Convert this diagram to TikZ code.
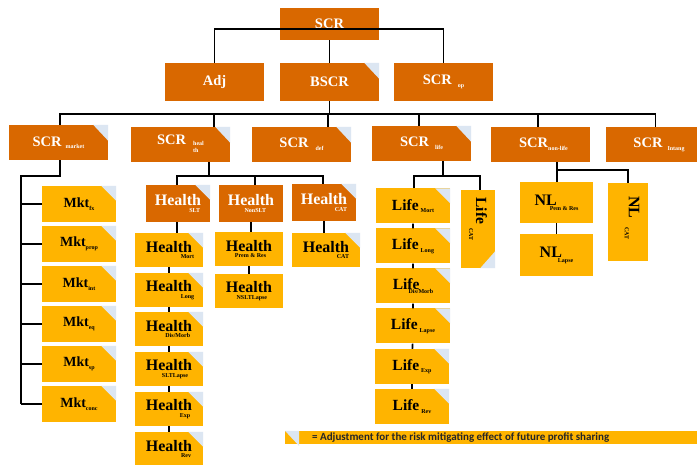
\documentclass[tikz,border=0pt]{standalone}
\usepackage{fontspec}
\setmainfont{Liberation Serif}
\newfontfamily\carlito{Carlito}
\definecolor{dor}{HTML}{D96800}
\definecolor{yel}{HTML}{FFB400}
\definecolor{lbl}{HTML}{DCE6F2}
\newcommand\subf{\fontsize{6}{7}\selectfont}
\newcommand\ssub[2][-2.5pt]{\raisebox{#1}{\subf #2}}
\newcommand\scrf{\fontsize{14.5}{15}\selectfont}
\newcommand\hlt[2][2pt]{{\fontsize{16}{16}\selectfont Health}\llap{\raisebox{-6.5pt}{\subf #2}\hspace{#1}}}
\begin{document}
\begin{tikzpicture}[x=1pt,y=-1pt,
 dk/.style={fill=dor,text=white,inner sep=0pt,font=\bfseries},
 yl/.style={fill=yel,text=black,inner sep=0pt,font=\bfseries},
 topbox/.style={dk,minimum width=99pt,minimum height=38pt},
 secbox/.style={dk,minimum width=99pt,minimum height=35pt},
 mkbox/.style={yl,minimum width=74pt,minimum height=36pt},
 hdbox/.style={dk,minimum width=64pt,minimum height=37pt},
 hybox/.style={yl,minimum width=68pt,minimum height=34pt},
 lybox/.style={yl,minimum width=74pt,minimum height=35pt},
 conn/.style={draw=black,line width=1.6pt},
 thickconn/.style={draw=black,line width=2.6pt},
 foldc/.style={fill=lbl}]
\useasboundingbox (0,0) rectangle (697,465);
\fill[white] (0,0) rectangle (697,465);

% level 0/1
\node[topbox,minimum height=32pt] (scr) at (329.5,24) {\scrf SCR};
\node[topbox] (adj) at (214.5,82) {\scrf Adj};
\node[topbox] (bscr) at (329.5,82) {\scrf BSCR};
\node[topbox] (op) at (443.5,82) {\scrf SCR\hspace{6pt}\ssub[-3pt]{op}\hspace{7pt}};

% level 2
\node[secbox] (scrm) at (58.5,142.5) {\scrf SCR\hspace{4pt}\ssub{market}};
\node[secbox] (scrh) at (180.5,144.5) {\scrf SCR\hspace{7pt}\raisebox{-1pt}{\subf\begin{tabular}[t]{@{}l@{}}heal\\th\end{tabular}}\hspace{16pt}};
\node[secbox] (def) at (301.5,144.5) {\scrf SCR\hspace{7pt}\ssub[-3pt]{def}\hspace{10pt}};
\node[secbox] (scrl) at (421.5,143.5) {\scrf SCR\hspace{6pt}\ssub[-3pt]{life}\hspace{7pt}};
\node[secbox] (scrn) at (540.5,144.5) {\hspace{6pt}\scrf SCR\ssub[-3pt]{non-life}};
\node[secbox] (intang) at (655.5,144.5) {\hspace{7pt}\scrf SCR\hspace{5pt}\ssub[-3pt]{Intang}};

% market
\node[mkbox] (fx) at (79,204) {\fontsize{14}{14}\selectfont Mkt\ssub{fx}\hspace{6pt}};
\node[mkbox] (prop) at (79,244) {\fontsize{14}{14}\selectfont Mkt\ssub{prop}};
\node[mkbox] (int) at (79,284) {\fontsize{14}{14}\selectfont Mkt\ssub{int}\hspace{6pt}};
\node[mkbox] (eq) at (79,324) {\fontsize{14}{14}\selectfont Mkt\ssub{eq}\hspace{6pt}};
\node[mkbox] (sp) at (79,364) {\fontsize{14}{14}\selectfont Mkt\ssub{sp}\hspace{6pt}};
\node[mkbox] (conc) at (79,404) {\fontsize{14}{14}\selectfont Mkt\ssub{conc}};

% health
\node[hdbox] (hslt) at (178,203.5) {\hlt[1pt]{SLT}\hspace{8pt}};
\node[hdbox] (hnon) at (251,203.5) {\hlt[8pt]{NonSLT}\hspace{7pt}};
\node[hdbox] (hcat) at (324,202.5) {\hlt[0pt]{CAT}\hspace{7pt}};
\node[hybox] (hmort) at (169,250) {\hlt[-2pt]{Mort}\hspace{12pt}};
\node[hybox] (hlong) at (169,290) {\hlt[-2pt]{Long}\hspace{12pt}};
\node[hybox] (hdis) at (169,329) {\hlt[2pt]{Dis/Morb}\hspace{12pt}};
\node[hybox] (hlapse) at (169,369) {\hlt[4pt]{SLTLapse}\hspace{12pt}};
\node[hybox] (hexp) at (169,409) {\hlt[2pt]{Exp}\hspace{12pt}};
\node[hybox] (hrev) at (169,449) {\hlt[1pt]{Rev}\hspace{12pt}};
\node[hybox] (hprem) at (249,249) {\hlt[6pt]{Prem \& Res}\hspace{12pt}};
\node[hybox] (hnsl) at (249,291) {\hlt[5pt]{NSLTLapse}\hspace{12pt}};
\node[hybox] (hcatc) at (326,250) {\hlt[0pt]{CAT}\hspace{12pt}};

% life
\node[lybox] (lmort) at (413,206) {\fontsize{15.5}{16}\selectfont Life\hspace{2pt}\ssub{Mort}};
\node[lybox] (llong) at (413,246) {\fontsize{15.5}{16}\selectfont Life\hspace{2pt}\ssub{Long}};
\node[lybox] (ldis) at (413,286) {\fontsize{15.5}{16}\selectfont Life\hspace{-11pt}\ssub[-4pt]{Dis/Morb}};
\node[lybox] (llapse) at (413,326) {\fontsize{15.5}{16}\selectfont Life\hspace{2pt}\ssub{Lapse}};
\node[lybox] (lexp) at (412,366.5) {\fontsize{15.5}{16}\selectfont Life\hspace{2pt}\ssub{Exp}};
\node[lybox] (lrev) at (412,406.5) {\fontsize{15.5}{16}\selectfont Life\hspace{2pt}\ssub{Rev}};
\node[yl,minimum width=34pt,minimum height=78pt] (lcat) at (478,229) {\rotatebox{-90}{\fontsize{15.5}{16}\selectfont Life\hspace{4pt}\raisebox{-7pt}{\subf CAT}\hspace{20pt}}};

% non-life
\node[yl,minimum width=73pt,minimum height=41pt] (nlprem) at (556.5,202.5) {\fontsize{16}{16}\selectfont NL\hspace{-7pt}\ssub[-5pt]{Pem \& Res}\hspace{10pt}};
\node[yl,minimum width=73pt,minimum height=42pt] (nllapse) at (556.5,255) {\fontsize{16}{16}\selectfont NL\hspace{-4pt}\ssub[-5pt]{Lapse}\hspace{4pt}};
\node[yl,minimum width=40pt,minimum height=78pt] (nlcat) at (628,222) {\rotatebox{-90}{\fontsize{16}{16}\selectfont NL\hspace{9pt}\raisebox{-4pt}{\subf CAT}\raisebox{-12pt}{}\hspace{8pt}}};

% folds
\foreach \n in {bscr,scrm,scrh,def,scrl}
  \fill[foldc] (\n.north east) -- ++(-15,0) -- ++(15,16) -- cycle;
\foreach \n in {fx,prop,int,eq,sp,conc,hslt,hcat,hmort,hlong,hdis,hlapse,hexp,hrev,hcatc,lmort,llong,ldis,llapse,lexp,lrev}
  \fill[foldc] (\n.north east) -- ++(-15,0) -- ++(15,15) -- cycle;
\fill[foldc] (lcat.south east) -- ++(-15,0) -- ++(15,-17) -- cycle;

% connectors level 0-1
\draw[conn] (adj.north) |- ([yshift=11pt]scr.south) -| (op.north);
\draw[conn] (scr.south) -- (bscr.north);
% level 1-2
\draw[conn] (bscr.south) -- ++(0,13) coordinate (b2);
\draw[conn] ([xshift=1.5pt]scrm.north) |- (b2) -| (intang.north);
\draw[conn] ([xshift=33.5pt]scrh.north) -- ([xshift=33.5pt]scrh.north |- b2);
\draw[conn] ([xshift=26.5pt]def.north) -- ([xshift=26.5pt]def.north |- b2);
\draw[conn] ([xshift=-2.5pt]scrl.north) -- ([xshift=-2.5pt]scrl.north |- b2);
\draw[conn] ([xshift=-2.5pt]scrn.north) -- ([xshift=-2.5pt]scrn.north |- b2);
% market
\coordinate (mk) at (21,0);
\draw[thickconn] ([xshift=1.5pt]scrm.south) -- ++(0,16) -| (mk |- conc.west);
\foreach \n in {fx,prop,int,eq,sp,conc}
  \draw[thickconn] (mk |- \n.west) -- (\n.west);
% health
\draw[conn] ([xshift=28.5pt]scrh.south) -- ++(0,14) coordinate (b3);
\draw[conn] ([xshift=-1pt]hslt.north) |- (b3) -| ([xshift=-1pt]hcat.north);
\draw[conn] ([xshift=4pt]hnon.north) -- ([xshift=4pt]hnon.north |- b3);
\draw[conn] ([xshift=-1pt]hslt.south) -- ([xshift=-1pt]hslt.south |- hmort.north);
\draw[conn] (hmort) -- (hlong) -- (hdis) -- (hlapse) -- (hexp) -- (hrev);
\draw[conn] (hnon.south) -- (hnon.south |- hprem.north);
\draw[conn] (hprem) -- (hnsl);
\draw[conn] (hcat.south) -- (hcat.south |- hcatc.north);
% life
\draw[conn] ([xshift=21.5pt]scrl.south) -- ++(0,15) coordinate (b4);
\draw[conn] ([xshift=1pt]lmort.north) |- (b4) -| ([xshift=2pt]lcat.north);
\draw[conn] (lmort) -- (llong) -- (ldis) -- (llapse) -- (lexp) -- (lrev);
% non-life
\draw[conn] ([xshift=16.5pt]scrn.south) -- ++(0,8) coordinate (b5);
\draw[conn] (b5) -| (nlcat.north);
\draw[conn] (b5) -- (b5 |- nlprem.north);
\draw[conn] (nlprem) -- (nllapse);

% legend
\node[fill=yel,inner sep=0pt,minimum height=13pt,anchor=west] (leg) at (285,437.5) {\makebox[412pt][l]{\hspace{27pt}\color{black!85}\carlito\bfseries\fontsize{11}{11}\selectfont = Adjustment for the risk mitigating effect of future profit sharing}};
\fill[foldc] (leg.north west) -- ++(14,0) -- ++(0,15) -- cycle;
\end{tikzpicture}
\end{document}
